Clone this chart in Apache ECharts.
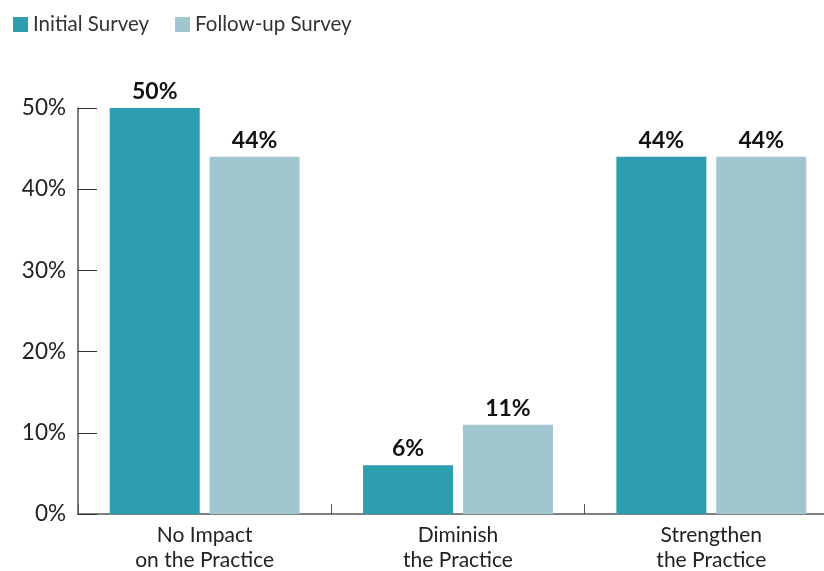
<!DOCTYPE html>
<html>
<head>
<meta charset="utf-8">
<script src="https://cdn.jsdelivr.net/npm/echarts@6/dist/echarts.min.js"></script>
<style>
  html, body { margin: 0; padding: 0; background: #ffffff; }
  #chart { width: 824px; height: 571px; }
</style>
</head>
<body>
<div id="chart"></div>
<script>
var categories = ['No Impact\non the Practice', 'Diminish\nthe Practice', 'Strengthen\nthe Practice'];
var initialSurvey = [50, 6, 44];
var followUpSurvey = [44, 11, 44];
var yTicks = [0, 10, 20, 30, 40, 50];

var dom = document.getElementById('chart');
var myChart = echarts.init(dom);

var font = 'Lato, "Open Sans", sans-serif';

var labelStyle = {
    show: true,
    position: 'top',
    distance: 5,
    formatter: '{c}%',
    color: '#111',
    fontFamily: font,
    fontWeight: 'bold',
    fontSize: 23
};

option = {
    backgroundColor: '#ffffff',
    animation: false,
    textStyle: { fontFamily: font },
    legend: {
        left: 8,
        top: 9,
        itemWidth: 15,
        itemHeight: 15,
        itemGap: 26,
        icon: 'rect',
        textStyle: { fontSize: 20.5, color: '#333', fontFamily: font },
        data: ['Initial Survey', 'Follow-up Survey']
    },
    grid: {
        left: 78,
        top: 108,
        bottom: 57,
        width: 760,
        outerBoundsMode: 'none',
        containLabel: false
    },
    xAxis: {
        type: 'category',
        data: categories,
        axisLine: { lineStyle: { color: '#555', width: 1.5 } },
        axisTick: { show: true, inside: true, length: 10, lineStyle: { color: '#555' } },
        axisLabel: {
            color: '#222',
            fontSize: 21,
            lineHeight: 25,
            margin: 9,
            fontFamily: font
        }
    },
    yAxis: {
        type: 'value',
        min: 0,
        max: 50,
        interval: 10,
        axisLine: { show: true, lineStyle: { color: '#555', width: 1.5 } },
        axisTick: { show: true, inside: true, length: 19, lineStyle: { color: '#333' } },
        splitLine: { show: false },
        axisLabel: {
            color: '#222',
            fontSize: 22.5,
            margin: 12,
            fontFamily: font,
            formatter: function (v) {
                return yTicks.indexOf(v) >= 0 ? v + '%' : '';
            }
        }
    },
    series: [
        {
            name: 'Initial Survey',
            type: 'bar',
            data: initialSurvey,
            barWidth: 90,
            barGap: '11%',
            itemStyle: { color: '#2C9EB0' },
            label: labelStyle
        },
        {
            name: 'Follow-up Survey',
            type: 'bar',
            data: followUpSurvey,
            barWidth: 90,
            itemStyle: { color: '#A0C6CF' },
            label: labelStyle
        }
    ]
};

if (option && typeof option === "object") {
    myChart.setOption(option, true);
}
</script>
</body>
</html>
